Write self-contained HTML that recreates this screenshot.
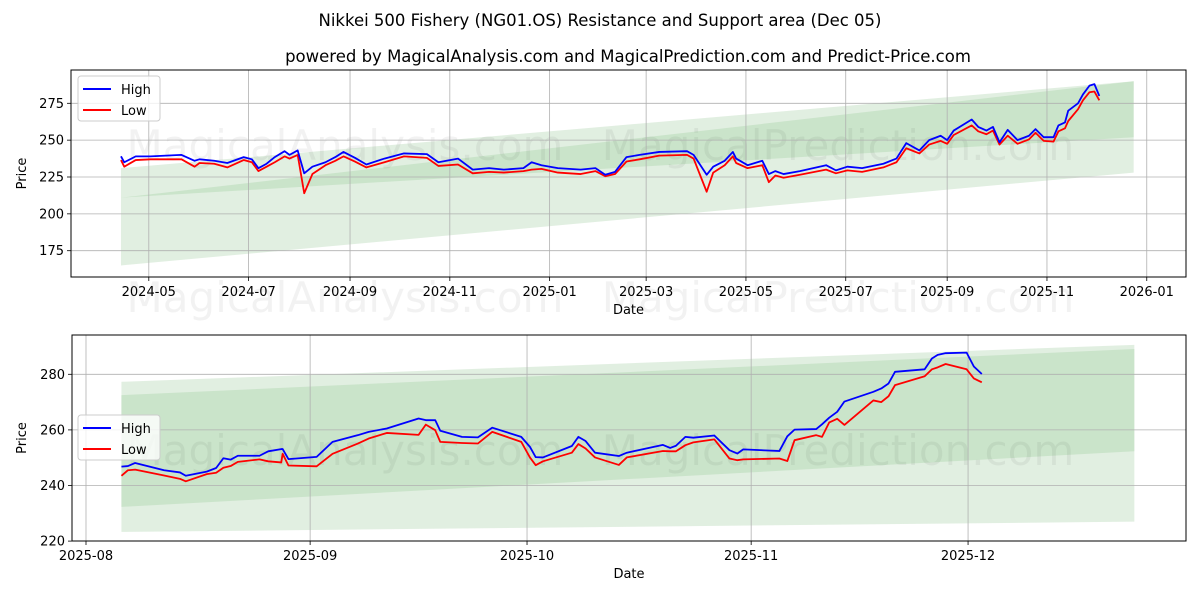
<!DOCTYPE html>
<html><head><meta charset="utf-8"><style>
body{margin:0;background:#fff;}
svg{display:block;font-family:"DejaVu Sans","Liberation Sans",sans-serif;}
</style></head><body>
<svg id="chart" width="1200" height="600" viewBox="0 0 1200 600">
<rect width="1200" height="600" fill="#fff"/>
<text x="600" y="26" text-anchor="middle" font-size="16.5">Nikkei 500 Fishery (NG01.OS) Resistance and Support area (Dec 05)</text>
<text x="628" y="62" text-anchor="middle" font-size="16.5">powered by MagicalAnalysis.com and MagicalPrediction.com and Predict-Price.com</text>
</svg>
<script>
// ---- top chart data (days since 2024-05-01) ----
const topDays=[-17,-15,-8,1,20,28,31,40,48,58,63,67,72,77,83,86,91,95,100,108,114,119,126,133,144,156,170,177,189,198,208,217,229,234,240,250,264,273,279,285,292,300,312,329,333,341,345,352,357,359,366,375,379,383,388,398,414,420,427,436,449,457,463,471,477,484,488,492,503,507,512,516,520,525,531,538,542,547,553,556,560,562,568,571,575,578,581];
const topHigh=[239,235,239,239,240,236,237,236,234.5,238.5,237,231,234,238.5,242.5,240,243,227.5,232,235,238.5,242,238,233.5,237.5,241,240.5,235,237.5,230,231,230,231,235,233,231,230,231,226.5,228.5,238.5,240,242,242.5,240,226.5,232,236,242,237.5,233,236,227,229,227,229,233,229.5,232,231,234,237.5,248,243,250,253,250,256.5,264,259,256.5,259,248.5,257,250,253,257.5,252,252,260,262,270,275,281,287,288,280];
const topLow=[236.5,232,236.5,237,237,232,234.5,234,231.5,236.5,235,229,232,235,239,237.5,240,214,227,233,236,239,235.5,231.5,235,239,238,232.5,233.5,227.5,228.5,228,229,230,230.5,228,227,229,225.5,227,235.5,237,239.5,240,237.5,215,228,233,239,234.5,231,233,221.5,226,224.5,226.5,230,227.5,229.5,228.5,231.5,235,244.5,241,247,249.5,247.5,253.5,260,256,254,256.5,247,253,247.5,250.5,255,249.5,249,256,258,263,271,277,282.5,283,277];
const topTickDays=[0,61,123,184,245,304,365,426,488,549,610];
const topTickLabels=["2024-05","2024-07","2024-09","2024-11","2025-01","2025-03","2025-05","2025-07","2025-09","2025-11","2026-01"];
const topYTicks=[175,200,225,250,275];
const topBandDays=[-17,602];
const topBand1Low=[165,228], topBand1High=[231,290];
const topBand2Low=[211,252], topBand2High=[211,290];
// ---- bottom chart data (days since 2025-08-01) ----
const botDays=[4.9,5.8,6.8,10.8,13,13.8,16.7,18,19,20,21,24,25.2,27,27.2,28,31.9,34.1,37.6,39.1,41.6,46,47,48.3,49,52,54.2,56.2,60.2,61.4,62.2,63.2,67.2,68.1,69.1,70.4,73.7,74.8,79.8,80.8,81.6,82.9,84,86.9,89,90.1,90.9,95.9,97,98,101,101.8,102.8,103.9,104.9,108.9,110,111,111.9,116,117,117.8,118.9,121.8,122.8,123.9];
const botHigh=[246.8,247,248.1,245.5,244.7,243.5,245,246.3,249.8,249.3,250.7,250.7,252.3,253.1,253.1,249.5,250.3,255.7,258.1,259.3,260.5,264.1,263.5,263.5,259.7,257.5,257.3,260.8,257.5,253.9,250.2,250.1,254.2,257.5,256,251.8,250.6,251.8,254.6,253.5,254.3,257.5,257.2,258,252.7,251.5,253,252.4,257.7,260.1,260.3,262,264.4,266.5,270.2,273.7,274.9,276.7,280.9,281.8,285.7,287,287.6,287.8,282.8,280.1];
const botLow=[243.5,245.5,245.7,243.6,242.4,241.5,244.1,244.6,246.4,247,248.5,249.4,248.7,248.3,251.4,247.2,246.9,251.4,255.1,256.9,258.9,258.2,261.9,259.9,255.7,255.3,255.1,259.3,255.7,250.1,247.3,248.7,251.8,254.9,253.3,250.1,247.4,250.1,252.4,252.3,252.3,254.5,255.5,256.6,249.7,249.1,249.4,249.7,248.8,256.3,258.1,257.5,262.7,264,261.8,270.6,270,272.1,276.1,279.3,281.8,282.5,283.7,281.8,278.5,277.1];
const botTickDays=[0,31,61,92,122];
const botTickLabels=["2025-08","2025-09","2025-10","2025-11","2025-12"];
const botYTicks=[220,240,260,280];
const botBandDays=[4.9,145];
const botBand1Low=[223.3,227], botBand1High=[277.3,290.6];
const botBand2Low=[232.3,252.3], botBand2High=[272.5,289.1];

const NS="http://www.w3.org/2000/svg";
const svg=document.getElementById('chart');
function mk(tag,attrs,parent){const e=document.createElementNS(NS,tag);for(const k in attrs)e.setAttribute(k,attrs[k]);(parent||svg).appendChild(e);return e;}

function drawPanel(cfg){
  const g=mk('g',{});
  
  
  const X=d=>cfg.x0+d*cfg.xs, Y=v=>cfg.y0+(cfg.v0-v)*cfg.ys;
  const band=(lo,hi,col,name)=>{
    const p=mk('polygon',{points:`${X(cfg.bandDays[0])},${Y(lo[0])} ${X(cfg.bandDays[1])},${Y(lo[1])} ${X(cfg.bandDays[1])},${Y(hi[1])} ${X(cfg.bandDays[0])},${Y(hi[0])}`,fill:col,'fill-opacity':'0.55'},g);
    
    
  };
  band(cfg.b1l,cfg.b1h,'#c8e2c8','support-resistance-band-outer');
  band(cfg.b2l,cfg.b2h,'#b8dab8','support-resistance-band-inner');
  cfg.marks.forEach(m=>{const t=mk('text',{x:m[0],y:m[1],'text-anchor':'middle','font-size':'42',fill:'#000','fill-opacity':'0.05'},g);t.textContent=m[2];
    
    });
  cfg.tickDays.forEach((d,i)=>{
    const x=X(d);
    mk('line',{x1:x,x2:x,y1:cfg.top,y2:cfg.bottom,stroke:'#b0b0b0','stroke-width':'0.8'},g);
    mk('line',{x1:x,x2:x,y1:cfg.bottom,y2:cfg.bottom+4,stroke:'#000','stroke-width':'0.8'},g);
    const t=mk('text',{x:x,y:cfg.bottom+19,'text-anchor':'middle','font-size':'13'},g);t.textContent=cfg.tickLabels[i];
    
    
  });
  cfg.yTicks.forEach(v=>{
    const y=Y(v);
    mk('line',{x1:cfg.left,x2:cfg.right,y1:y,y2:y,stroke:'#b0b0b0','stroke-width':'0.8'},g);
    mk('line',{x1:cfg.left-4,x2:cfg.left,y1:y,y2:y,stroke:'#000','stroke-width':'0.8'},g);
    const t=mk('text',{x:cfg.left-7,y:y+4.5,'text-anchor':'end','font-size':'13'},g);t.textContent=v;
    
    
  });
  const line=(vals,col,name)=>{
    const p=mk('polyline',{points:cfg.days.map((d,i)=>X(d)+','+Y(vals[i])).join(' '),fill:'none',stroke:col,'stroke-width':'1.8','stroke-linejoin':'round'},g);
    
    
  };
  line(cfg.low,'#ff0000','low-line');
  line(cfg.high,'#0000ff','high-line');
  mk('rect',{x:cfg.left,y:cfg.top,width:cfg.right-cfg.left,height:cfg.bottom-cfg.top,fill:'none',stroke:'#000','stroke-width':'1'},g);
  const xl=mk('text',{x:(cfg.left+cfg.right)/2,y:cfg.bottom+37,'text-anchor':'middle','font-size':'13'},g);xl.textContent='Date';
  
  
  const cy=(cfg.top+cfg.bottom)/2;
  const yl=mk('text',{x:26,y:cy,'text-anchor':'middle','font-size':'13',transform:`rotate(-90 26 ${cy})`},g);yl.textContent='Price';
  
  
  const lg=mk('g',{},g);
  
  
  mk('rect',{x:cfg.lx,y:cfg.ly,width:82,height:45,rx:3,fill:'#fff','fill-opacity':'0.8',stroke:'#ccc'},lg);
  [['High','#0000ff'],['Low','#ff0000']].forEach((e,i)=>{
    const yy=cfg.ly+13+i*21;
    mk('line',{x1:cfg.lx+5,x2:cfg.lx+33,y1:yy,y2:yy,stroke:e[1],'stroke-width':'2'},lg);
    const t=mk('text',{x:cfg.lx+43,y:yy+5,'font-size':'13'},lg);t.textContent=e[0];
    
    
  });
}

drawPanel({name:'top-chart',left:71,right:1186,top:70,bottom:277,x0:148.8,xs:1.636,y0:103.3,v0:275,ys:1.474,
  days:topDays,high:topHigh,low:topLow,tickDays:topTickDays,tickLabels:topTickLabels,yTicks:topYTicks,
  bandDays:topBandDays,b1l:topBand1Low,b1h:topBand1High,b2l:topBand2Low,b2h:topBand2High,lx:78,ly:76,
  marks:[[345,160,'MagicalAnalysis.com'],[838,160,'MagicalPrediction.com'],[345,312,'MagicalAnalysis.com'],[838,312,'MagicalPrediction.com']]});
drawPanel({name:'bottom-chart',left:72,right:1186,top:335,bottom:541,x0:86,xs:7.23,y0:374.3,v0:280,ys:2.78,
  days:botDays,high:botHigh,low:botLow,tickDays:botTickDays,tickLabels:botTickLabels,yTicks:botYTicks,
  bandDays:botBandDays,b1l:botBand1Low,b1h:botBand1High,b2l:botBand2Low,b2h:botBand2High,lx:78,ly:415,
  marks:[[345,465,'MagicalAnalysis.com'],[838,465,'MagicalPrediction.com']]});
</script>
</body></html>
